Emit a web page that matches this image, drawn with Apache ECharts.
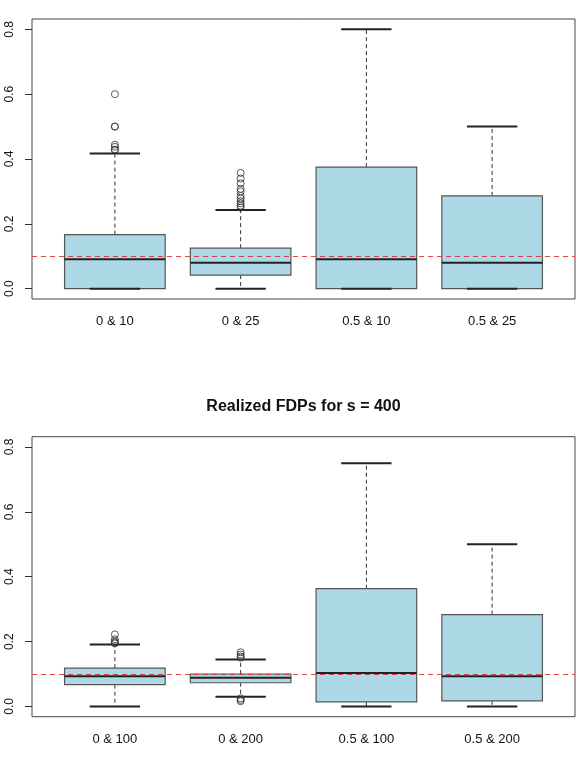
<!DOCTYPE html>
<html>
<head>
<meta charset="utf-8">
<script src="https://cdn.jsdelivr.net/npm/echarts@6/dist/echarts.min.js"></script>
<style>
  html, body { margin: 0; padding: 0; background: #fff; }
  #main { width: 577px; height: 783px; }
</style>
</head>
<body>
<div id="main"></div>
<script>
// top panel
var topCategories = ["0 & 10", "0 & 25", "0.5 & 10", "0.5 & 25"];
var topMin = [0, 0, 0, 0];
var topQ1 = [0, 0.042, 0, 0];
var topMedian = [0.091, 0.08, 0.091, 0.08];
var topQ3 = [0.167, 0.125, 0.375, 0.286];
var topMax = [0.417, 0.243, 0.8, 0.5];
var topOutliers = [
  [0.6, 0.5, 0.5, 0.444, 0.4375, 0.4286, 0.4286],
  [0.357, 0.34, 0.325, 0.308, 0.3, 0.286, 0.278, 0.27, 0.263, 0.256, 0.25],
  [],
  []
];

// bottom panel
var bottomTitle = "Realized FDPs for s = 400";
var bottomCategories = ["0 & 100", "0 & 200", "0.5 & 100", "0.5 & 200"];
var bottomMin = [0, 0.03, 0, 0];
var bottomQ1 = [0.067, 0.073, 0.014, 0.017];
var bottomMedian = [0.093, 0.088, 0.103, 0.093];
var bottomQ3 = [0.118, 0.1, 0.363, 0.283];
var bottomMax = [0.191, 0.145, 0.75, 0.5];
var bottomOutliers = [
  [0.222, 0.207, 0.2, 0.197, 0.194],
  [0.167, 0.16, 0.154, 0.15, 0.025, 0.02, 0.016],
  [],
  []
];

var yTicks = [0, 0.2, 0.4, 0.6, 0.8];
var refLevel = 0.1;

var fontName = "Liberation Sans";

function boxData(mins, q1s, meds, q3s, maxs) {
  return mins.map(function (m, i) {
    return [i, m, q1s[i], meds[i], q3s[i], maxs[i]];
  });
}

function outlierData(cats, outs) {
  var d = [];
  outs.forEach(function (list, i) {
    list.forEach(function (v) {
      d.push([cats[i], v]);
    });
  });
  return d;
}

function renderBox(params, api) {
  var i = api.value(0);
  var pMin = api.coord([i, api.value(1)]);
  var pQ1 = api.coord([i, api.value(2)]);
  var pMed = api.coord([i, api.value(3)]);
  var pQ3 = api.coord([i, api.value(4)]);
  var pMax = api.coord([i, api.value(5)]);
  var band = api.size([1, 0])[0];
  var half = band * 0.4;
  var cap = half / 2;
  var x = pMed[0];
  var dashStyle = { stroke: "#333", lineWidth: 1, lineDash: [4, 3] };
  var capStyle = { stroke: "#222", lineWidth: 2 };
  return {
    type: "group",
    children: [
      { type: "line", shape: { x1: x, y1: pQ3[1], x2: x, y2: pMax[1] }, style: dashStyle },
      { type: "line", shape: { x1: x, y1: pQ1[1], x2: x, y2: pMin[1] }, style: dashStyle },
      {
        type: "rect",
        shape: { x: x - half, y: pQ3[1], width: half * 2, height: pQ1[1] - pQ3[1] },
        style: { fill: "#add8e6", stroke: "#555", lineWidth: 1.2 }
      },
      { type: "line", shape: { x1: x - cap, y1: pMax[1], x2: x + cap, y2: pMax[1] }, style: capStyle },
      { type: "line", shape: { x1: x - cap, y1: pMin[1], x2: x + cap, y2: pMin[1] }, style: capStyle },
      { type: "line", shape: { x1: x - half, y1: pMed[1], x2: x + half, y2: pMed[1] }, style: { stroke: "#222", lineWidth: 2 } }
    ]
  };
}

// frame grid (R plot region) + data grid (boxes, axes)
function panelGrids(frameTop) {
  return [
    { left: 32, top: frameTop, width: 543, height: 280, show: true, borderColor: "#444", borderWidth: 1, backgroundColor: "transparent" },
    { left: 52, top: frameTop + 10.3, width: 503, height: 259.4 }
  ];
}

function frameAxes(gi) {
  return {
    x: { gridIndex: gi, type: "value", min: 0.34, max: 4.66, show: false },
    y: { gridIndex: gi, type: "value", min: -0.032, max: 0.832, show: false }
  };
}

function dataAxes(gi, cats) {
  return {
    x: {
      gridIndex: gi,
      type: "category",
      data: cats,
      offset: 10.3,
      axisLine: { show: false },
      axisTick: { alignWithLabel: true, length: 7, lineStyle: { color: "#333" } },
      axisLabel: { margin: 16, fontSize: 13, color: "#111", fontFamily: fontName }
    },
    y: {
      gridIndex: gi,
      type: "value",
      min: yTicks[0],
      max: yTicks[yTicks.length - 1],
      interval: 0.2,
      offset: 20,
      axisLine: { show: false },
      axisTick: { show: true, length: 7, lineStyle: { color: "#333" } },
      splitLine: { show: false },
      axisLabel: {
        rotate: 90,
        margin: 16,
        fontSize: 12,
        color: "#111",
        fontFamily: fontName,
        formatter: function (v) { return v.toFixed(1); }
      }
    }
  };
}

function refSeries(axisIndex) {
  return {
    type: "line",
    xAxisIndex: axisIndex,
    yAxisIndex: axisIndex,
    data: [],
    z: 5,
    markLine: {
      silent: true,
      symbol: "none",
      label: { show: false },
      lineStyle: { color: "rgba(225,40,40,0.85)", type: [5, 4], width: 1 },
      data: [{ yAxis: refLevel }]
    }
  };
}

function boxSeries(axisIndex, data) {
  return {
    type: "custom",
    xAxisIndex: axisIndex,
    yAxisIndex: axisIndex,
    renderItem: renderBox,
    encode: { x: 0, y: [1, 2, 3, 4, 5] },
    data: data,
    z: 2
  };
}

function outlierSeries(axisIndex, data) {
  return {
    type: "scatter",
    xAxisIndex: axisIndex,
    yAxisIndex: axisIndex,
    symbol: "circle",
    symbolSize: 7,
    itemStyle: { color: "rgba(0,0,0,0)", borderColor: "#333", borderWidth: 1 },
    data: data,
    z: 3
  };
}

var gTop = panelGrids(19);
var gBottom = panelGrids(436.7);
var fTop = frameAxes(0), dTop = dataAxes(1, topCategories);
var fBottom = frameAxes(2), dBottom = dataAxes(3, bottomCategories);

var option = {
  animation: false,
  backgroundColor: "#fff",
  title: {
    text: bottomTitle,
    left: 303.5,
    top: 406.7,
    padding: 0,
    textAlign: "center",
    textVerticalAlign: "middle",
    textStyle: { fontSize: 16, fontWeight: "bold", color: "#111", fontFamily: fontName }
  },
  grid: [gTop[0], gTop[1], gBottom[0], gBottom[1]],
  xAxis: [fTop.x, dTop.x, fBottom.x, dBottom.x],
  yAxis: [fTop.y, dTop.y, fBottom.y, dBottom.y],
  series: [
    boxSeries(1, boxData(topMin, topQ1, topMedian, topQ3, topMax)),
    outlierSeries(1, outlierData(topCategories, topOutliers)),
    refSeries(0),
    boxSeries(3, boxData(bottomMin, bottomQ1, bottomMedian, bottomQ3, bottomMax)),
    outlierSeries(3, outlierData(bottomCategories, bottomOutliers)),
    refSeries(2)
  ]
};

var myChart = echarts.init(document.getElementById("main"));
myChart.setOption(option);
</script>
</body>
</html>
